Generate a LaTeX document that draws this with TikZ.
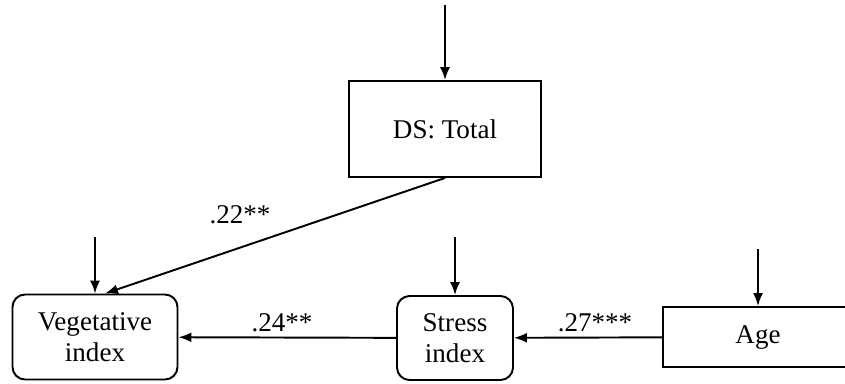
\documentclass[tikz,border=0pt]{standalone}
\usepackage{fontspec}
\setmainfont{Liberation Serif}
\usetikzlibrary{arrows.meta}
\tikzstyle{var} = [draw, line width=1.1pt, text centered, align=center, inner sep=0pt, font=\fontsize{15.4}{17.5}\selectfont]
\tikzstyle{round} = [var, rounded corners=0.25cm]
\tikzstyle{path} = [line width=1.1pt, -{Latex[length=0.26cm, width=0.2cm]}]
\tikzstyle{coef} = [font=\fontsize{15.4}{17.5}\selectfont]

\begin{document}
\begin{tikzpicture}[x=0.02cm, y=-0.02cm]
        \useasboundingbox (0,0) rectangle (845,383);

        \node[var, minimum width=3.84cm, minimum height=1.92cm] (ds) at (445,129) {DS: Total};
        \node[round, minimum width=3.3cm, minimum height=1.7cm] (veg) at (95,337) {Vegetative\\index};
        \node[round, minimum width=2.32cm, minimum height=1.68cm] (stress) at (455,338) {Stress\\index};
        \node[var, minimum width=3.8cm, minimum height=1.2cm] (age) at (758,337) {Age};

        % error terms
        \coordinate (eds) at (445,5);
        \coordinate (eveg) at (95,237);
        \coordinate (estress) at (455,237);
        \coordinate (eage) at (758,249);

        \draw[path] (eds) -- (ds);
        \draw[path] (eveg) -- (veg);
        \draw[path] (estress) -- (stress);
        \draw[path] (eage) -- (age);

        \draw[path] (ds.south) -- ([xshift=0.2cm]veg.north);
        \draw[path] (age) -- (stress);
        \draw[path] (stress) -- (veg);

        \node[coef] (c1) at (240,215) {.22**};
        \node[coef] (c2) at (282,323) {.24**};
        \node[coef] (c3) at (595,323) {.27***};
    \end{tikzpicture}
\end{document}
